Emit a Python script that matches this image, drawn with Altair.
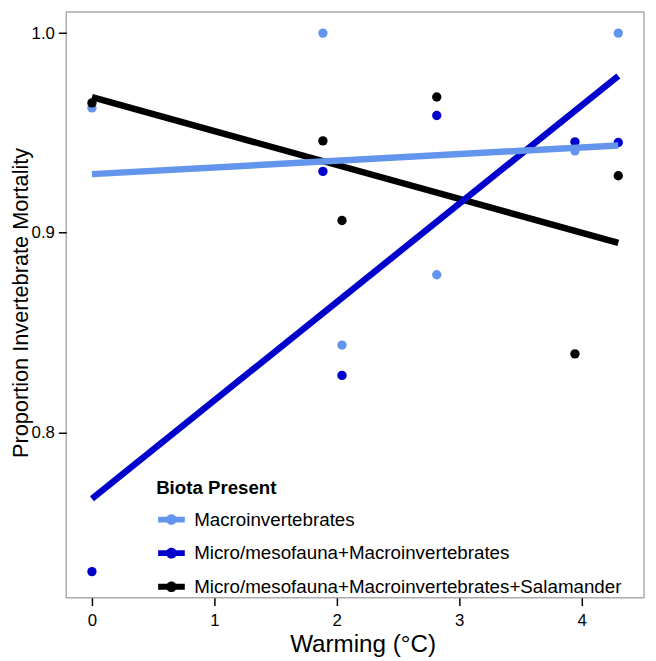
import altair as alt
import pandas as pd

# ---- data ----
groups = [
    "Macroinvertebrates",
    "Micro/mesofauna+Macroinvertebrates",
    "Micro/mesofauna+Macroinvertebrates+Salamander",
]
colors = ["#6495ED", "#0000CD", "#000000"]

warming = [0.0, 1.887, 2.043, 2.817, 3.946, 4.30]
macro_y = [0.9625, 1.0, 0.8437, 0.8789, 0.941, 1.0]
micro_y = [0.7302, 0.9307, 0.8285, 0.9587, 0.9455, 0.9452]
sal_y = [0.965, 0.946, 0.9061, 0.968, 0.8393, 0.9285]

x_ticks = [0, 1, 2, 3, 4]
y_ticks = [0.8, 0.9, 1.0]
x_domain = [-0.2097, 4.5105]
y_domain = [0.71713, 1.01054]

rows = []
for g, ys in zip(groups, [macro_y, micro_y, sal_y]):
    for xv, yv in zip(warming, ys):
        rows.append({"warming": xv, "mortality": yv, "biota": g})
df = pd.DataFrame(rows)
df_lines = df.iloc[::-1].reset_index(drop=True)

FONT = "Liberation Sans"

x_enc = alt.X(
    "warming:Q",
    scale=alt.Scale(domain=x_domain, nice=False, zero=False),
    axis=alt.Axis(
        values=x_ticks, format="d", title="Warming (°C)",
        labelPadding=7.5, titleX=300, titleY=54, titleBaseline="alphabetic",
        titleAlign="center", titleFontSize=24.5,
    ),
)
y_enc = alt.Y(
    "mortality:Q",
    scale=alt.Scale(domain=y_domain, nice=False, zero=False),
    axis=alt.Axis(
        values=y_ticks, format=".1f", title="Proportion Invertebrate Mortality",
        labelPadding=4, titleX=-39, titleY=294, titleAngle=270,
        titleBaseline="alphabetic", titleAlign="center", titleFontSize=22,
    ),
)

color_scale = alt.Scale(domain=groups, range=colors)

legend_symbol = (
    "M-1,-0.22H1V0.22H-1Z "
    "M-0.4,0A0.4,0.4 0 1,1 0.4,0A0.4,0.4 0 1,1 -0.4,0Z"
)

legend = alt.Legend(
    orient="none", legendX=91, legendY=472.5,
    title="Biota Present", titleFontSize=18.9, titleFontWeight="bold",
    titleColor="black", titleFont=FONT, titlePadding=9,
    labelFontSize=19, labelColor="black", labelFont=FONT, labelLimit=0,
    labelOffset=9.5, symbolType=legend_symbol, symbolSize=729,
    symbolStrokeWidth=0, symbolOpacity=1, symbolOffset=2,
    rowPadding=10, padding=0,
)

points = alt.Chart(df).mark_circle(size=90, opacity=1).encode(
    x=x_enc, y=y_enc,
    color=alt.Color("biota:N", scale=color_scale, legend=legend),
)

lines = (
    alt.Chart(df_lines)
    .transform_regression("warming", "mortality", groupby=["biota"])
    .mark_line(strokeWidth=6.5)
    .encode(
        x=x_enc, y=y_enc,
        color=alt.Color("biota:N", scale=color_scale, legend=None),
    )
)

chart = (
    alt.layer(points, lines)
    .properties(
        width=585, height=593,
        autosize=alt.AutoSizeParams(type="none"),
        padding={"left": 59, "top": 0, "right": 4, "bottom": 60},
        background="white",
    )
    .configure_view(stroke="#ababab", strokeWidth=1.5)
    .configure_axis(
        grid=False, domain=False, tickColor="black", tickWidth=1.5, tickSize=8,
        labelFontSize=17, labelColor="black", labelFont=FONT,
        titleFontWeight="normal", titleColor="black",
        titleFont=FONT,
    )
)

chart.save("out.html", embed_options={"renderer": "svg", "actions": False})
